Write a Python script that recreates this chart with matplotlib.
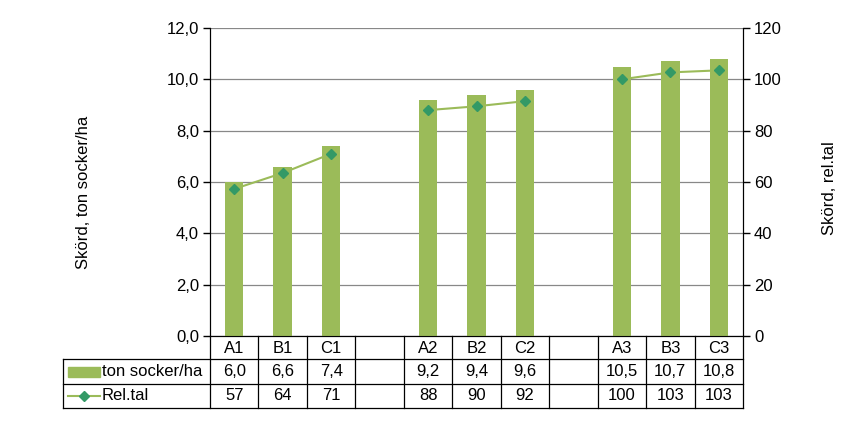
import matplotlib
matplotlib.use("Agg")
import matplotlib.pyplot as plt
import numpy as np
from matplotlib.lines import Line2D
from matplotlib.patches import Rectangle

plt.rcParams['font.family'] = ['Liberation Sans', 'DejaVu Sans']

categories = ["A1", "B1", "C1", "", "A2", "B2", "C2", "", "A3", "B3", "C3"]
ton_socker = [6.0, 6.6, 7.4, None, 9.2, 9.4, 9.6, None, 10.5, 10.7, 10.8]
rel_tal = [57.3, 63.5, 71, None, 88, 89.5, 91.5, None, 100, 102.7, 103.5]
ton_labels = ["6,0", "6,6", "7,4", "", "9,2", "9,4", "9,6", "", "10,5", "10,7", "10,8"]
rel_labels = ["57", "64", "71", "", "88", "90", "92", "", "100", "103", "103"]
series_names = ["ton socker/ha", "Rel.tal"]
left_ticks = [0, 2, 4, 6, 8, 10, 12]
right_ticks = [0, 20, 40, 60, 80, 100, 120]

BAR = "#9BBB59"
LINE = "#9BBB59"
MARK = "#339966"
FS = 12
W, H = 851, 425
fig = plt.figure(figsize=(W/100, H/100), dpi=100)
L, R, T, B = 210, 743, 28, 336
ax = fig.add_axes([L/W, 1-B/H, (R-L)/W, (B-T)/H])
ax2 = ax.twinx()

x = np.arange(len(categories))
bx = [i for i, v in enumerate(ton_socker) if v is not None]
bv = [v for v in ton_socker if v is not None]
ax.bar(bx, bv, width=0.38, color=BAR, zorder=3)
rv = np.array([np.nan if v is None else v for v in rel_tal], dtype=float)
ax2.plot(x, rv, color=LINE, lw=1.5, marker="D", markersize=5,
         markerfacecolor=MARK, markeredgecolor=MARK, zorder=4)

ax.set_xlim(-0.5, len(categories) - 0.5)
ax.set_ylim(0, 12)
ax2.set_ylim(0, 120)
ax.set_yticks(left_ticks)
ax.set_yticklabels([f"{t:.1f}".replace(".", ",") for t in left_ticks], fontsize=FS)
ax2.set_yticks(right_ticks)
ax2.set_yticklabels([str(t) for t in right_ticks], fontsize=FS)
ax.yaxis.grid(True, color="#888888", lw=0.9, zorder=0)
ax.set_axisbelow(True)
ax.set_xticks([])
for a in (ax, ax2):
    a.spines['top'].set_visible(False)
    a.tick_params(axis='y', length=5, width=1, color='black', pad=3)
    a.spines['left'].set_color('black')
    a.spines['right'].set_color('black')
    a.spines['bottom'].set_color('black')

fig.text(84/W, 1 - 192/H, "Skörd, ton socker/ha", rotation=90, ha='center', va='center', fontsize=FS)
fig.text(830/W, 1 - 188/H, "Skörd, rel.tal", rotation=90, ha='center', va='center', fontsize=FS)

# data table
fig.canvas.draw()
def xpx(v):
    return ax.transData.transform((v, 0))[0]
def fx(px):
    return px / W
def fy(py):
    return 1 - py / H
rows = [336, 359, 384, 408]
tx0 = 63
edges = [xpx(i - 0.5) for i in range(len(categories) + 1)]
kw = dict(color='black', lw=0.9, transform=fig.transFigure)
for e in edges:
    fig.add_artist(Line2D([fx(e), fx(e)], [fy(rows[0]), fy(rows[3])], **kw))
fig.add_artist(Line2D([fx(tx0), fx(tx0)], [fy(rows[1]), fy(rows[3])], **kw))
fig.add_artist(Line2D([fx(tx0), fx(edges[-1])], [fy(rows[1]), fy(rows[1])], **kw))
fig.add_artist(Line2D([fx(tx0), fx(edges[-1])], [fy(rows[2]), fy(rows[2])], **kw))
fig.add_artist(Line2D([fx(tx0), fx(edges[-1])], [fy(rows[3]), fy(rows[3])], **kw))

for i, c in enumerate(categories):
    cx = xpx(i)
    fig.text(fx(cx), fy((rows[0] + rows[1]) / 2 + 1), c, ha='center', va='center', fontsize=FS)
    fig.text(fx(cx), fy((rows[1] + rows[2]) / 2), ton_labels[i], ha='center', va='center', fontsize=FS)
    fig.text(fx(cx), fy((rows[2] + rows[3]) / 2), rel_labels[i], ha='center', va='center', fontsize=FS)

# legend keys
r1 = (rows[1] + rows[2]) / 2
r2 = (rows[2] + rows[3]) / 2
fig.add_artist(Rectangle((fx(68), fy(r1 + 5)), fx(100) - fx(68), fy(r1 - 5) - fy(r1 + 5),
                         color=BAR, transform=fig.transFigure))
fig.text(fx(102), fy(r1), series_names[0], ha='left', va='center', fontsize=FS)
fig.add_artist(Line2D([fx(68), fx(100)], [fy(r2), fy(r2)], color=LINE, lw=1.5,
                      transform=fig.transFigure))
fig.add_artist(Line2D([fx(84)], [fy(r2)], marker="D", markersize=5, color=MARK,
                      transform=fig.transFigure))
fig.text(fx(102), fy(r2), series_names[1], ha='left', va='center', fontsize=FS)

fig.savefig("out.png", dpi=100)
